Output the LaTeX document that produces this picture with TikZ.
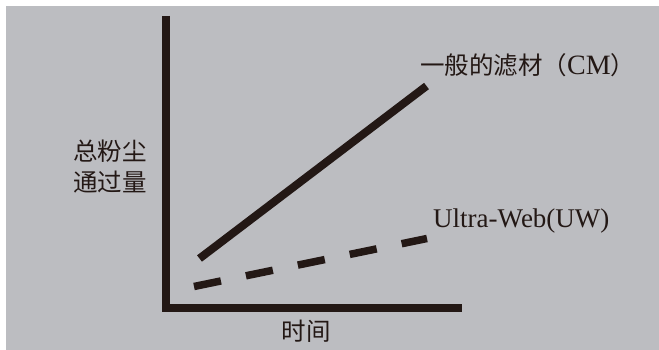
\documentclass[tikz,border=0pt]{standalone}
\usepackage{fontspec}
\setmainfont{Liberation Serif}
\newfontfamily\cjk{Noto Sans CJK SC}
\usepackage{tikz}
\usetikzlibrary{positioning}
\definecolor{panel}{RGB}{188,189,193}
\definecolor{ink}{RGB}{35,24,21}
\tikzset{AxisLine/.style={%
    draw=ink,%
    line width=8pt,%
    line join=miter,%
}}
\tikzset{SolidCurve/.style={%
    draw=ink,%
    line width=8pt,%
}}
\tikzset{DashCurve/.style={%
    draw=ink,%
    line width=7.5pt,%
    dash pattern=on 27.5pt off 25.5pt,%
}}
\tikzset{Caption/.style={%
    text=ink,%
    inner sep=0pt,%
    font=\cjk\fontsize{24.5}{31}\selectfont,%
}}

\begin{document}
\begin{tikzpicture}[x=1pt,y=-1pt]
    \useasboundingbox (0,0) rectangle (659,350);
    \fill[white] (0,0) rectangle (659,350);
    \fill[panel] (6,6) rectangle (659,350);

    % axes
    \coordinate (ytop) at (166,16);
    \coordinate (orig) at (166,308);
    \coordinate (xend) at (462,308);
    \draw[AxisLine] (ytop) -- (orig) -- (xend);

    % the two curves
    \coordinate (cm0) at (199.5,258.5);
    \coordinate (cm1) at (426.5,86);
    \coordinate (uw0) at (194,286.5);
    \coordinate (uw1) at (427,238.5);
    \draw[SolidCurve] (cm0) -- (cm1);
    \draw[DashCurve] (uw0) -- (uw1);

    % labels
    \node[Caption, anchor=west] (cmlabel) at (420,65) {一般的滤材（{\rmfamily\fontsize{28}{30}\selectfont CM}）};
    \node[Caption, anchor=base west, font=\rmfamily\fontsize{27}{30}\selectfont] (uwlabel) at (433,227) {Ultra-Web(UW)};
    \node[Caption, align=center] (ylabel) at (110,167) {总粉尘\\通过量};
    \node[Caption] (xlabel) at (306,331) {时间};
\end{tikzpicture}
\end{document}
